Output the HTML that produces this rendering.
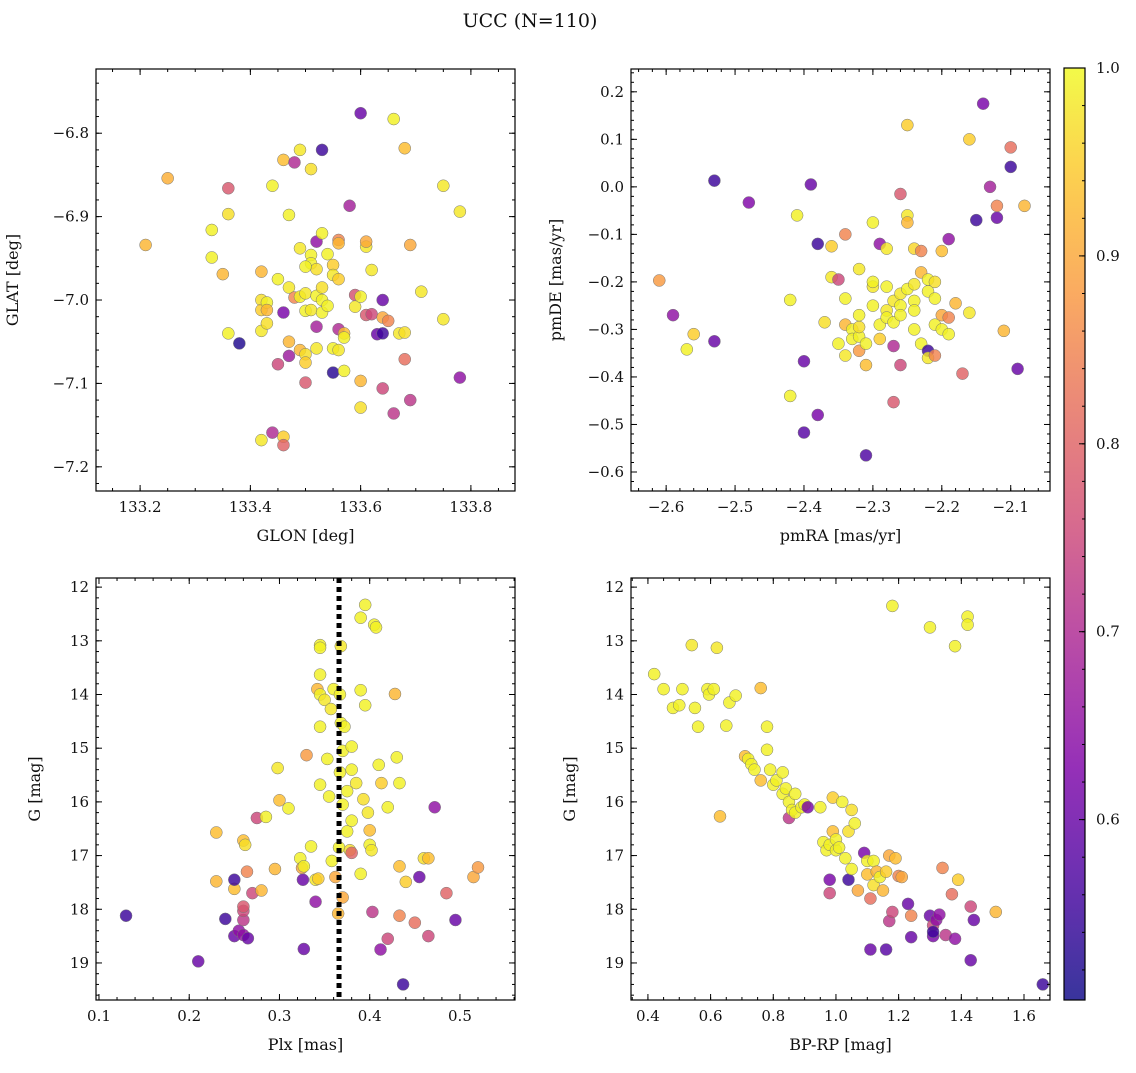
<!DOCTYPE html>
<html><head><meta charset="utf-8"><style>
body{margin:0;background:#fff;}
svg text{font-family:"DejaVu Serif","Liberation Serif",serif;fill:#111;}
</style></head><body>
<svg id="fig" width="1136" height="1068" xmlns="http://www.w3.org/2000/svg">
<text x="530" y="27" font-size="19" text-anchor="middle">UCC (N=110)</text>
</svg>
<script>
const tlLon=[133.21,133.25,133.33,133.33,133.35,133.36,133.36,133.36,133.38,133.42,133.42,133.42,133.42,133.42,133.43,133.43,133.43,133.44,133.44,133.45,133.46,133.46,133.46,133.46,133.47,133.47,133.47,133.47,133.48,133.48,133.49,133.49,133.49,133.49,133.50,133.50,133.50,133.50,133.50,133.51,133.51,133.51,133.51,133.52,133.52,133.52,133.52,133.52,133.53,133.53,133.53,133.53,133.53,133.54,133.54,133.55,133.55,133.55,133.55,133.56,133.56,133.56,133.56,133.56,133.57,133.57,133.57,133.58,133.59,133.59,133.60,133.60,133.60,133.60,133.61,133.61,133.61,133.62,133.62,133.63,133.64,133.64,133.64,133.64,133.65,133.66,133.66,133.67,133.68,133.68,133.68,133.69,133.69,133.71,133.75,133.75,133.78,133.78,133.50,133.45];
const tlLat=[-6.934,-6.854,-6.949,-6.916,-6.969,-6.866,-6.897,-7.040,-7.052,-7.000,-6.966,-7.012,-7.037,-7.168,-7.028,-7.003,-7.012,-6.863,-7.159,-7.077,-7.015,-7.164,-7.174,-6.832,-7.067,-7.050,-6.898,-6.985,-6.997,-6.835,-6.82,-7.060,-6.996,-6.938,-7.013,-7.065,-7.075,-7.099,-6.992,-6.843,-7.012,-6.946,-6.956,-6.93,-6.995,-7.032,-7.058,-6.963,-6.82,-6.92,-7.00,-7.015,-6.985,-7.007,-6.945,-6.958,-6.97,-7.058,-7.087,-6.975,-6.928,-6.932,-7.035,-7.06,-7.085,-7.04,-7.045,-6.887,-6.994,-7.008,-6.776,-7.097,-7.129,-6.996,-6.936,-6.93,-7.018,-6.964,-7.017,-7.041,-7.00,-7.04,-7.021,-7.106,-7.025,-6.783,-7.136,-7.040,-7.071,-7.039,-6.818,-6.934,-7.12,-6.990,-7.023,-6.863,-6.894,-7.093,-6.96,-6.975];
const tlP=[0.92,0.91,0.99,0.99,0.92,0.78,0.97,0.99,0.52,0.97,0.92,0.95,0.98,0.98,0.97,0.99,0.92,0.99,0.7,0.75,0.62,0.95,0.8,0.93,0.67,0.92,0.99,0.98,0.85,0.7,0.98,0.92,0.99,0.98,0.99,0.97,0.95,0.78,0.98,0.97,0.98,0.99,0.99,0.65,0.99,0.68,0.98,0.97,0.55,0.99,0.99,0.99,0.97,0.99,0.99,0.95,0.98,0.99,0.53,0.95,0.85,0.92,0.7,0.98,0.99,0.93,0.99,0.68,0.77,0.98,0.6,0.92,0.97,0.99,0.98,0.9,0.78,0.98,0.75,0.6,0.6,0.55,0.9,0.75,0.85,0.99,0.72,0.98,0.82,0.97,0.93,0.9,0.72,0.98,0.98,0.98,0.98,0.65,0.99,0.99];

const trRA=[-2.61,-2.59,-2.57,-2.56,-2.53,-2.53,-2.48,-2.42,-2.42,-2.41,-2.40,-2.40,-2.39,-2.38,-2.38,-2.37,-2.36,-2.36,-2.35,-2.35,-2.34,-2.34,-2.34,-2.34,-2.33,-2.33,-2.32,-2.32,-2.32,-2.32,-2.32,-2.31,-2.31,-2.31,-2.30,-2.30,-2.30,-2.30,-2.29,-2.29,-2.29,-2.28,-2.28,-2.28,-2.27,-2.27,-2.27,-2.27,-2.26,-2.26,-2.26,-2.26,-2.26,-2.25,-2.25,-2.25,-2.25,-2.24,-2.24,-2.24,-2.24,-2.24,-2.23,-2.23,-2.23,-2.22,-2.22,-2.22,-2.22,-2.21,-2.21,-2.21,-2.21,-2.20,-2.20,-2.20,-2.19,-2.19,-2.19,-2.18,-2.17,-2.16,-2.16,-2.15,-2.14,-2.13,-2.12,-2.12,-2.11,-2.10,-2.10,-2.09,-2.08,-2.28];
const trDE=[-0.197,-0.27,-0.342,-0.31,0.013,-0.325,-0.033,-0.238,-0.44,-0.06,-0.367,-0.517,0.005,-0.12,-0.48,-0.285,-0.19,-0.125,-0.195,-0.33,-0.1,-0.29,-0.355,-0.235,-0.30,-0.32,-0.345,-0.315,-0.295,-0.27,-0.173,-0.33,-0.375,-0.565,-0.25,-0.21,-0.20,-0.075,-0.32,-0.12,-0.29,-0.26,-0.275,-0.21,-0.285,-0.24,-0.335,-0.453,-0.25,-0.27,-0.225,-0.015,-0.375,-0.06,-0.075,0.13,-0.215,-0.205,-0.13,-0.24,-0.30,-0.26,-0.135,-0.18,-0.33,-0.345,-0.36,-0.22,-0.195,-0.235,-0.29,-0.355,-0.20,-0.27,-0.30,-0.135,-0.275,-0.31,-0.11,-0.245,-0.393,0.10,-0.265,-0.07,0.175,0.0,-0.04,-0.065,-0.303,0.083,0.042,-0.383,-0.04,-0.13];
const trP=[0.88,0.65,0.99,0.95,0.55,0.6,0.63,0.99,0.99,0.99,0.6,0.58,0.6,0.55,0.62,0.97,0.98,0.95,0.75,0.99,0.85,0.92,0.98,0.99,0.99,0.99,0.88,0.99,0.97,0.99,0.98,0.99,0.93,0.57,0.99,0.98,0.99,0.99,0.95,0.65,0.99,0.98,0.99,0.99,0.99,0.98,0.7,0.78,0.99,0.99,0.98,0.78,0.75,0.98,0.92,0.95,0.99,0.98,0.96,0.99,0.99,0.99,0.85,0.92,0.99,0.55,0.98,0.99,0.99,0.99,0.99,0.85,0.97,0.9,0.99,0.93,0.85,0.99,0.65,0.92,0.8,0.95,0.98,0.55,0.62,0.68,0.85,0.6,0.92,0.82,0.55,0.6,0.92,0.98];

const blPlx=[0.13,0.21,0.23,0.23,0.24,0.25,0.25,0.25,0.255,0.26,0.26,0.26,0.26,0.26,0.262,0.264,0.265,0.27,0.275,0.28,0.285,0.295,0.298,0.30,0.31,0.323,0.325,0.326,0.327,0.327,0.33,0.335,0.34,0.34,0.342,0.345,0.345,0.345,0.345,0.345,0.345,0.343,0.35,0.353,0.355,0.357,0.358,0.36,0.362,0.365,0.366,0.367,0.367,0.368,0.368,0.37,0.37,0.37,0.372,0.375,0.375,0.378,0.38,0.38,0.38,0.38,0.385,0.39,0.39,0.39,0.393,0.395,0.395,0.398,0.40,0.40,0.402,0.403,0.405,0.407,0.41,0.412,0.413,0.42,0.42,0.428,0.43,0.433,0.433,0.433,0.437,0.44,0.45,0.455,0.46,0.465,0.465,0.472,0.485,0.495,0.515,0.52];
const blG=[18.12,18.97,16.57,17.48,18.18,17.62,17.45,18.5,18.4,18.2,18.48,18.03,17.95,16.72,16.8,17.3,18.54,17.7,16.3,17.65,16.28,17.25,15.37,15.97,16.12,17.05,17.23,17.45,17.2,18.74,15.13,16.83,17.86,17.45,13.9,13.08,13.13,13.63,14.6,14.0,15.68,17.43,14.1,15.2,15.9,14.27,17.1,13.9,17.4,18.08,16.85,14.0,15.45,14.53,13.1,17.78,15.05,16.05,14.6,15.8,16.55,16.9,15.4,16.35,14.97,16.95,15.65,17.34,13.92,12.57,15.95,12.33,14.2,16.2,16.53,16.8,16.9,18.05,12.7,12.75,15.31,18.75,15.65,18.55,16.1,13.99,15.17,17.2,15.65,18.12,19.4,17.49,18.25,17.4,17.05,17.05,18.5,16.1,17.7,18.2,17.4,17.22];
const blP=[0.55,0.6,0.93,0.92,0.55,0.93,0.55,0.6,0.65,0.72,0.65,0.75,0.78,0.93,0.97,0.85,0.6,0.75,0.75,0.92,0.99,0.92,0.98,0.93,0.99,0.99,0.9,0.6,0.99,0.6,0.88,0.99,0.65,0.98,0.92,0.99,0.99,0.99,0.99,0.99,0.99,0.95,0.98,0.99,0.99,0.98,0.99,0.99,0.9,0.92,0.99,0.99,0.99,0.99,0.98,0.9,0.99,0.99,0.99,0.99,0.99,0.97,0.99,0.99,0.99,0.8,0.98,0.99,0.99,0.99,0.97,0.99,0.99,0.98,0.93,0.99,0.98,0.72,0.99,0.99,0.99,0.65,0.95,0.75,0.99,0.92,0.99,0.93,0.99,0.85,0.55,0.95,0.82,0.6,0.97,0.93,0.75,0.65,0.8,0.6,0.9,0.88];
const plxLine=0.366;

const brCol=[0.42,0.45,0.48,0.50,0.51,0.54,0.55,0.56,0.59,0.595,0.61,0.62,0.63,0.65,0.66,0.68,0.71,0.72,0.73,0.74,0.76,0.76,0.78,0.78,0.79,0.80,0.81,0.83,0.83,0.84,0.85,0.85,0.86,0.87,0.87,0.89,0.90,0.91,0.95,0.96,0.97,0.98,0.98,0.98,0.99,0.99,1.00,1.00,1.01,1.02,1.03,1.04,1.04,1.05,1.05,1.06,1.07,1.09,1.10,1.10,1.11,1.11,1.12,1.12,1.13,1.14,1.15,1.16,1.16,1.17,1.17,1.18,1.18,1.19,1.20,1.21,1.23,1.24,1.24,1.30,1.30,1.31,1.31,1.31,1.32,1.33,1.34,1.35,1.37,1.38,1.38,1.39,1.42,1.42,1.43,1.43,1.44,1.51,1.66];
const brG=[13.62,13.9,14.25,14.2,13.9,13.08,14.25,14.6,13.9,14.0,13.9,13.13,16.27,14.58,14.15,14.02,15.15,15.2,15.3,15.4,15.6,13.88,14.6,15.03,15.4,15.68,15.6,15.45,15.85,15.75,16.0,16.3,16.15,16.2,15.85,16.1,16.05,16.1,16.1,16.75,16.9,16.8,17.7,17.45,15.92,16.55,16.9,16.7,16.85,16.0,17.05,17.45,16.55,17.25,16.15,16.4,17.65,16.95,17.35,17.1,17.8,18.75,17.55,17.1,17.3,17.4,17.65,18.75,17.3,18.22,17.0,12.35,18.05,17.05,17.38,17.4,17.9,18.12,18.52,18.12,12.75,18.3,18.5,18.42,18.2,18.1,17.23,18.48,17.72,13.1,18.55,17.45,12.55,12.7,17.95,18.95,18.2,18.05,19.4];
const brP=[0.99,0.99,0.99,0.99,0.99,0.98,0.99,0.99,0.99,0.99,0.99,0.98,0.93,0.99,0.99,0.99,0.93,0.99,0.99,0.99,0.93,0.93,0.99,0.99,0.99,0.99,0.99,0.99,0.99,0.99,0.99,0.72,0.99,0.99,0.99,0.99,0.99,0.62,0.99,0.99,0.99,0.99,0.75,0.62,0.95,0.93,0.99,0.99,0.99,0.99,0.99,0.55,0.97,0.99,0.97,0.99,0.9,0.62,0.93,0.99,0.82,0.6,0.97,0.99,0.92,0.99,0.92,0.58,0.95,0.72,0.9,0.99,0.75,0.93,0.85,0.9,0.6,0.85,0.6,0.6,0.99,0.75,0.62,0.55,0.65,0.65,0.85,0.72,0.82,0.99,0.65,0.95,0.99,0.99,0.75,0.6,0.6,0.92,0.55];

const cbTicks=[0.6,0.7,0.8,0.9,1.0];
const vmin=0.504,vmax=1.0;
const NS="http://www.w3.org/2000/svg";
const svg=document.getElementById('fig');
const stops=[[0,[13,8,135]],[0.13,[76,2,161]],[0.25,[126,3,168]],[0.38,[169,35,149]],[0.5,[204,71,120]],[0.63,[229,107,93]],[0.75,[248,149,64]],[0.88,[253,195,40]],[1,[240,249,33]]];
function plasma(t){t=Math.max(0,Math.min(1,t));for(let i=1;i<stops.length;i++){if(t<=stops[i][0]){const a=stops[i-1],b=stops[i];const f=(t-a[0])/(b[0]-a[0]);return 'rgb('+a[1].map((v,k)=>Math.round(v+(b[1][k]-v)*f)).join(',')+')';}}return 'rgb(240,249,33)';}
function mk(tag,attrs,parent){const e=document.createElementNS(NS,tag);for(const k in attrs)e.setAttribute(k,attrs[k]);(parent||svg).appendChild(e);return e;}
function fmt(v,d){const s=Math.abs(v).toFixed(d);return (v<-1e-9?'\u2212':'')+s;}

function panel(o){
  const g=mk('g',{});
  
  
  const L=o.L,T=o.T,W=419,H=422;
  const sx=v=>L+(v-o.x0)/(o.x1-o.x0)*W;
  const sy=v=>o.inv? T+(v-o.y0)/(o.y1-o.y0)*H : T+H-(v-o.y0)/(o.y1-o.y0)*H;
  // points
  for(let i=0;i<o.xs.length;i++){
    const c=mk('circle',{cx:sx(o.xs[i]),cy:sy(o.ys[i]),r:6,fill:plasma((o.ps[i]-vmin)/(vmax-vmin)),'fill-opacity':0.82,stroke:'#777','stroke-width':0.5},g);
    
    
  }
  if(o.vline!==undefined){
    const l=mk('line',{x1:sx(o.vline),x2:sx(o.vline),y1:T,y2:T+H,stroke:'#000','stroke-width':5,'stroke-dasharray':'5,4'},g);
    
    
  }
  mk('rect',{x:L,y:T,width:W,height:H,fill:'none',stroke:'#000','stroke-width':1.2},g);
  // x ticks
  const eps=1e-9;
  for(let v=Math.ceil((o.x0)/o.xm-eps)*o.xm; v<=o.x1+eps; v+=o.xm){const x=sx(v);mk('line',{x1:x,x2:x,y1:T+H,y2:T+H-3,stroke:'#000'},g);mk('line',{x1:x,x2:x,y1:T,y2:T+3,stroke:'#000'},g);}
  o.xt.forEach(v=>{const x=sx(v);mk('line',{x1:x,x2:x,y1:T+H,y2:T+H-6,stroke:'#000'},g);mk('line',{x1:x,x2:x,y1:T,y2:T+6,stroke:'#000'},g);
    const t=mk('text',{x:x,y:T+H+21,'font-size':15,'text-anchor':'middle'},g);t.textContent=fmt(v,o.xd);
    });
  for(let v=Math.ceil((Math.min(o.y0,o.y1))/o.ym-eps)*o.ym; v<=Math.max(o.y0,o.y1)+eps; v+=o.ym){const y=sy(v);mk('line',{x1:L,x2:L+3,y1:y,y2:y,stroke:'#000'},g);mk('line',{x1:L+W,x2:L+W-3,y1:y,y2:y,stroke:'#000'},g);}
  o.yt.forEach(v=>{const y=sy(v);mk('line',{x1:L,x2:L+6,y1:y,y2:y,stroke:'#000'},g);mk('line',{x1:L+W,x2:L+W-6,y1:y,y2:y,stroke:'#000'},g);
    const t=mk('text',{x:L-7,y:y+5,'font-size':15,'text-anchor':'end'},g);t.textContent=fmt(v,o.yd);
    });
  const xl=mk('text',{x:L+W/2,y:T+H+50,'font-size':16,'text-anchor':'middle'},g);xl.textContent=o.xlab;
  
  const yx=o.L-(o.ylx);
  const yl=mk('text',{x:yx,y:T+H/2,'font-size':16,'text-anchor':'middle',transform:`rotate(-90 ${yx} ${T+H/2})`},g);yl.textContent=o.ylab;
  
}
panel({name:'glon-glat-panel',L:96,T:69,x0:133.12,x1:133.88,y0:-7.229,y1:-6.723,xs:tlLon,ys:tlLat,ps:tlP,xt:[133.2,133.4,133.6,133.8],xm:0.05,xd:1,yt:[-7.2,-7.1,-7.0,-6.9,-6.8],ym:0.02,yd:1,xlab:'GLON [deg]',ylab:'GLAT [deg]',ylx:78});
panel({name:'pm-panel',L:631,T:69,x0:-2.651,x1:-2.043,y0:-0.640,y1:0.248,xs:trRA,ys:trDE,ps:trP,xt:[-2.6,-2.5,-2.4,-2.3,-2.2,-2.1],xm:0.02,xd:1,yt:[-0.6,-0.5,-0.4,-0.3,-0.2,-0.1,0.0,0.1,0.2],ym:0.02,yd:1,xlab:'pmRA [mas/yr]',ylab:'pmDE [mas/yr]',ylx:70});
panel({name:'plx-g-panel',L:96,T:578,x0:0.0967,x1:0.561,y0:11.83,y1:19.69,inv:true,xs:blPlx,ys:blG,ps:blP,xt:[0.1,0.2,0.3,0.4,0.5],xm:0.02,xd:1,yt:[12,13,14,15,16,17,18,19],ym:0.2,yd:0,xlab:'Plx [mas]',ylab:'G [mag]',ylx:56,vline:plxLine});
panel({name:'cmd-panel',L:631,T:578,x0:0.346,x1:1.683,y0:11.83,y1:19.69,inv:true,xs:brCol,ys:brG,ps:brP,xt:[0.4,0.6,0.8,1.0,1.2,1.4,1.6],xm:0.05,xd:1,yt:[12,13,14,15,16,17,18,19],ym:0.2,yd:0,xlab:'BP-RP [mag]',ylab:'G [mag]',ylx:56});

// colorbar
const cb=mk('g',{});


const defs=mk('defs',{},cb);
const lg=mk('linearGradient',{id:'cbg',x1:0,y1:1,x2:0,y2:0},defs);
for(let i=0;i<=20;i++){mk('stop',{offset:i/20,'stop-color':plasma(i/20),'stop-opacity':0.82},lg);}
const CT=68,CB=1000,CL=1064,CW=21;
mk('rect',{x:CL,y:CT,width:CW,height:CB-CT,fill:'url(#cbg)',stroke:'#000','stroke-width':1.2},cb);
const cy=v=>CB-(v-vmin)/(vmax-vmin)*(CB-CT);
for(let v=0.52;v<=1.0001;v+=0.02){mk('line',{x1:CL+CW,x2:CL+CW-3,y1:cy(v),y2:cy(v),stroke:'#000'},cb);}
cbTicks.forEach(v=>{mk('line',{x1:CL+CW,x2:CL+CW-6,y1:cy(v),y2:cy(v),stroke:'#000'},cb);
  const t=mk('text',{x:CL+CW+11,y:cy(v)+5,'font-size':15},cb);t.textContent=v.toFixed(1);
  });
</script>
</body></html>
